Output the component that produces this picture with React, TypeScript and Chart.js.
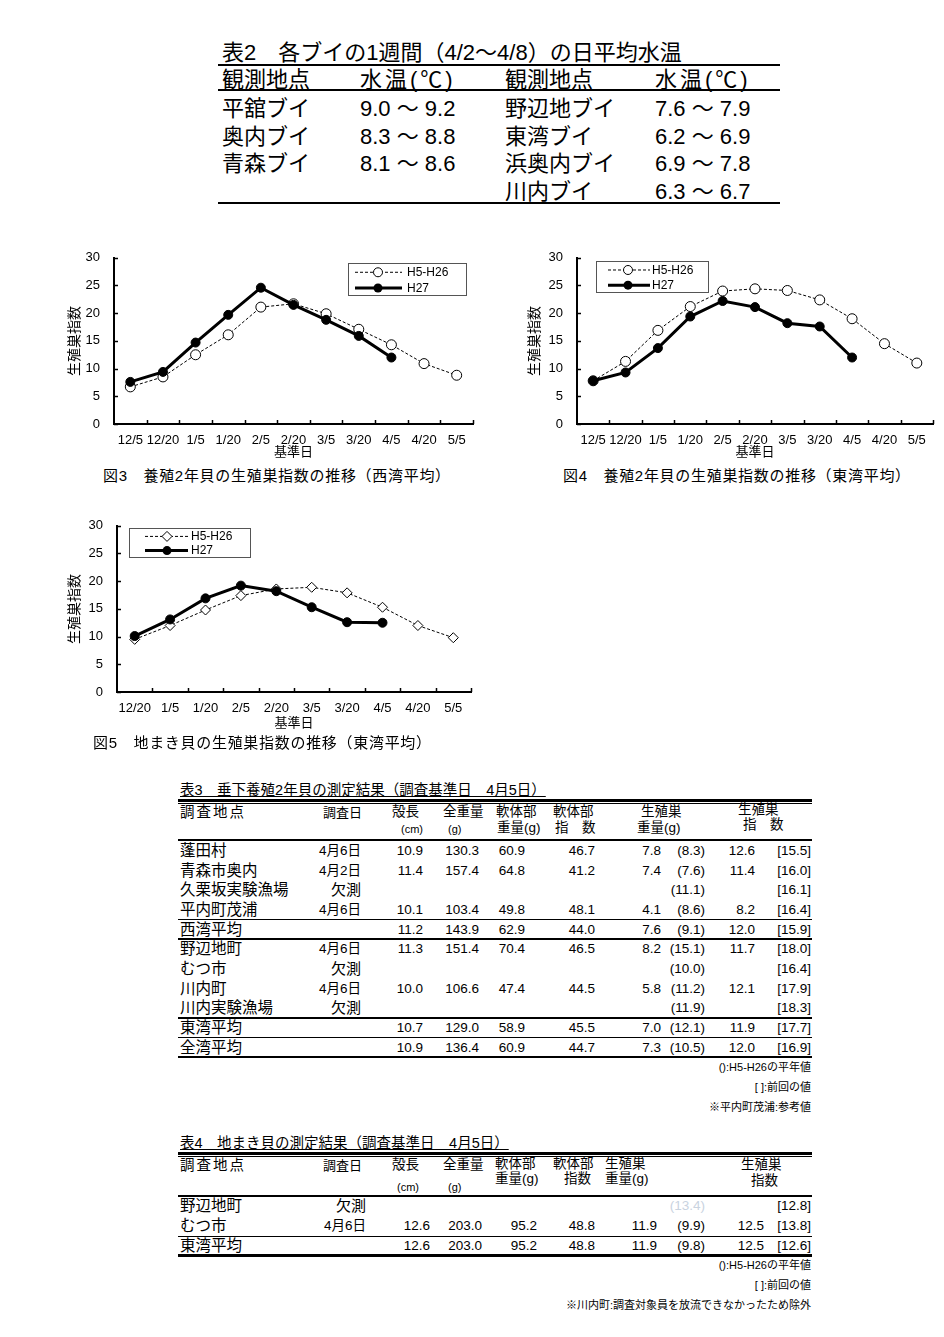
import React, { useEffect, useRef } from 'react';
import { Chart, registerables } from 'chart.js';
Chart.register(...registerables);

// ---------- data ----------
const seriesNames = ['H5-H26', 'H27'];
const fig3Labels = ['12/5', '12/20', '1/5', '1/20', '2/5', '2/20', '3/5', '3/20', '4/5', '4/20', '5/5'];
const fig3Avg = [6.7, 8.5, 12.5, 16.1, 21.1, 21.7, 19.9, 17.1, 14.3, 10.9, 8.8];
const fig3H27 = [7.6, 9.4, 14.7, 19.7, 24.6, 21.5, 18.8, 15.9, 12.0, null, null];
const fig4Labels = ['12/5', '12/20', '1/5', '1/20', '2/5', '2/20', '3/5', '3/20', '4/5', '4/20', '5/5'];
const fig4Avg = [7.8, 11.3, 16.9, 21.2, 24.0, 24.4, 24.1, 22.4, 19.0, 14.5, 11.0];
const fig4H27 = [7.8, 9.3, 13.7, 19.4, 22.2, 21.1, 18.2, 17.6, 12.0, null, null];
const fig5Labels = ['12/20', '1/5', '1/20', '2/5', '2/20', '3/5', '3/20', '4/5', '4/20', '5/5'];
const fig5Avg = [9.5, 12.0, 14.8, 17.4, 18.6, 18.9, 17.9, 15.3, 12.0, 9.8];
const fig5H27 = [10.1, 13.1, 16.9, 19.2, 18.2, 15.3, 12.6, 12.5, null, null];
const yMin = 0;
const yMax = 30;
const yStep = 5;

const t2Title = '表2　各ブイの1週間（4/2～4/8）の日平均水温';
const t2Sites1 = ['平舘ブイ', '奥内ブイ', '青森ブイ'];
const t2Temps1 = ['9.0 ～ 9.2', '8.3 ～ 8.8', '8.1 ～ 8.6'];
const t2Sites2 = ['野辺地ブイ', '東湾ブイ', '浜奥内ブイ', '川内ブイ'];
const t2Temps2 = ['7.6 ～ 7.9', '6.2 ～ 6.9', '6.9 ～ 7.8', '6.3 ～ 6.7'];

const t3Title = '表3　垂下養殖2年貝の測定結果（調査基準日　4月5日）';
const t3Sites = ['蓬田村', '青森市奥内', '久栗坂実験漁場', '平内町茂浦', '西湾平均', '野辺地町', 'むつ市', '川内町', '川内実験漁場', '東湾平均', '全湾平均'];
const t3Dates = ['4月6日', '4月2日', '欠測', '4月6日', '', '4月6日', '欠測', '4月6日', '欠測', '', ''];
const t3Shell = [10.9, 11.4, null, 10.1, 11.2, 11.3, null, 10.0, null, 10.7, 10.9];
const t3Total = [130.3, 157.4, null, 103.4, 143.9, 151.4, null, 106.6, null, 129.0, 136.4];
const t3Soft = [60.9, 64.8, null, 49.8, 62.9, 70.4, null, 47.4, null, 58.9, 60.9];
const t3SoftIdx = [46.7, 41.2, null, 48.1, 44.0, 46.5, null, 44.5, null, 45.5, 44.7];
const t3Gonad = [7.8, 7.4, null, 4.1, 7.6, 8.2, null, 5.8, null, 7.0, 7.3];
const t3GonadAvg = [8.3, 7.6, 11.1, 8.6, 9.1, 15.1, 10.0, 11.2, 11.9, 12.1, 10.5];
const t3Gsi = [12.6, 11.4, null, 8.2, 12.0, 11.7, null, 12.1, null, 11.9, 12.0];
const t3GsiPrev = [15.5, 16.0, 16.1, 16.4, 15.9, 18.0, 16.4, 17.9, 18.3, 17.7, 16.9];
const t3Notes = ['():H5-H26の平年値', '[ ]:前回の値', '※平内町茂浦:参考値'];

const t4Title = '表4　地まき貝の測定結果（調査基準日　4月5日）';
const t4Sites = ['野辺地町', 'むつ市', '東湾平均'];
const t4Dates = ['欠測', '4月6日', ''];
const t4Shell = [null, 12.6, 12.6];
const t4Total = [null, 203.0, 203.0];
const t4Soft = [null, 95.2, 95.2];
const t4SoftIdx = [null, 48.8, 48.8];
const t4Gonad = [null, 11.9, 11.9];
const t4GonadAvg = [13.4, 9.9, 9.8];
const t4Gsi = [null, 12.5, 12.5];
const t4GsiPrev = [12.8, 13.8, 12.6];
const t4Notes = ['():H5-H26の平年値', '[ ]:前回の値', '※川内町:調査対象員を放流できなかったため除外'];

// ---------- helpers ----------
const FONT = "'Liberation Sans', 'Noto Sans CJK JP', sans-serif";
const NUM = 13.5;
const f1 = (v: number | null) => (v == null ? '' : v.toFixed(1));
const par = (v: number | null) => (v == null ? '' : '(' + v.toFixed(1) + ')');
const brk = (v: number | null) => (v == null ? '' : '[' + v.toFixed(1) + ']');

type TP = { x: number; y: number; t: string; s?: number; a?: 'l' | 'r' | 'c'; c?: string; ls?: number; u?: boolean };
function T({ x, y, t, s = NUM, a = 'l', c = '#000', ls = 0, u = false }: TP) {
  const lh = Math.round(s * 1.3);
  const st: any = {
    position: 'absolute', top: y - lh / 2, height: lh, lineHeight: lh + 'px', fontSize: s,
    color: c, whiteSpace: 'nowrap', fontFamily: FONT, letterSpacing: ls ? ls + 'px' : undefined,
    textDecoration: u ? 'underline' : undefined,
  };
  if (a === 'l') st.left = x;
  else if (a === 'r') st.right = 944 - x;
  else { st.left = x - 300; st.width = 600; st.textAlign = 'center'; }
  return <div style={st}>{t}</div>;
}
function L({ x1, x2, y, h = 1 }: { x1: number; x2: number; y: number; h?: number }) {
  return <div style={{ position: 'absolute', left: x1, width: x2 - x1, top: y, height: h, background: '#000' }} />;
}

// ---------- chart ----------
type Geo = {
  left: number; top: number; w: number; h: number;
  plotL: number; plotT: number; plotR: number; plotB: number; yTitleX: number;
  lg: { x: number; y: number; w: number; h: number; l1: number; l2: number; m: number; tx: number };
};

function LineChart({ labels, avg, h27, avgPoint, g }: { labels: string[]; avg: (number | null)[]; h27: (number | null)[]; avgPoint: string; g: Geo }) {
  const ref = useRef<HTMLCanvasElement>(null);
  useEffect(() => {
    const tickFont = { family: FONT, size: 13 };
    const insideTicks = {
      id: 'insideTicks',
      afterDraw(chart: any) {
        const { ctx, chartArea: a, scales } = chart;
        const xs = scales.x, ys = scales.y;
        ctx.save();
        ctx.strokeStyle = '#000';
        ctx.lineWidth = 1.5;
        ys.ticks.forEach((_: any, i: number) => {
          const py = Math.round(ys.getPixelForTick(i)) + 0.5;
          ctx.beginPath(); ctx.moveTo(a.left, py); ctx.lineTo(a.left + 4, py); ctx.stroke();
        });
        const n = xs.ticks.length;
        const half = (xs.getPixelForTick(1) - xs.getPixelForTick(0)) / 2;
        for (let i = 0; i < n; i++) {
          const px = Math.round(xs.getPixelForTick(i) + half) + 0.5;
          ctx.beginPath(); ctx.moveTo(px, a.bottom); ctx.lineTo(px, a.bottom - 4); ctx.stroke();
        }
        ctx.restore();
      },
    };
    const lg = g.lg;
    const boxLegend = {
      id: 'boxLegend',
      afterDraw(chart: any) {
        const ctx = chart.ctx;
        const bx = lg.x - g.left, by = lg.y - g.top;
        ctx.save();
        ctx.fillStyle = '#fff';
        ctx.fillRect(bx, by, lg.w, lg.h);
        ctx.strokeStyle = '#555';
        ctx.lineWidth = 1;
        ctx.strokeRect(bx + 0.5, by + 0.5, lg.w, lg.h);
        const rows = [by + lg.h * 0.29, by + lg.h * 0.78];
        const l1 = bx + lg.l1, l2 = bx + lg.l2, m = bx + lg.m;
        ctx.strokeStyle = '#000';
        ctx.setLineDash([3, 2]);
        ctx.lineWidth = 1;
        ctx.beginPath(); ctx.moveTo(l1, rows[0]); ctx.lineTo(l2, rows[0]); ctx.stroke();
        ctx.setLineDash([]);
        ctx.fillStyle = '#fff';
        ctx.beginPath();
        if (avgPoint === 'rectRot') {
          ctx.moveTo(m, rows[0] - 5); ctx.lineTo(m + 5, rows[0]); ctx.lineTo(m, rows[0] + 5); ctx.lineTo(m - 5, rows[0]); ctx.closePath();
        } else {
          ctx.arc(m, rows[0], 4.5, 0, Math.PI * 2);
        }
        ctx.fill(); ctx.stroke();
        ctx.lineWidth = 3;
        ctx.beginPath(); ctx.moveTo(l1, rows[1]); ctx.lineTo(l2, rows[1]); ctx.stroke();
        ctx.fillStyle = '#000';
        ctx.beginPath(); ctx.arc(m, rows[1], 4.5, 0, Math.PI * 2); ctx.fill();
        ctx.font = '12px ' + FONT;
        ctx.textBaseline = 'middle';
        ctx.textAlign = 'left';
        ctx.fillText(seriesNames[0], bx + lg.tx, rows[0] + 0.5);
        ctx.fillText(seriesNames[1], bx + lg.tx, rows[1] + 0.5);
        ctx.restore();
      },
    };
    const chart = new Chart(ref.current as HTMLCanvasElement, {
      type: 'line',
      data: {
        labels,
        datasets: [
          {
            label: seriesNames[1], data: h27 as any, borderColor: '#000', borderWidth: 3,
            pointRadius: 4.5, pointStyle: 'circle', pointBackgroundColor: '#000', pointBorderColor: '#000',
            pointBorderWidth: 1, order: 0, tension: 0,
          },
          {
            label: seriesNames[0], data: avg as any, borderColor: '#000', borderWidth: 1, borderDash: [3, 2],
            pointRadius: 5, pointStyle: avgPoint as any, pointBackgroundColor: '#fff', pointBorderColor: '#000',
            pointBorderWidth: 1, order: 1, tension: 0,
          },
        ],
      },
      options: {
        responsive: false,
        animation: false,
        devicePixelRatio: 1,
        layout: { padding: { top: g.plotT - g.top, right: g.left + g.w - g.plotR, left: 0, bottom: 0 } },
        plugins: { legend: { display: false }, tooltip: { enabled: false } },
        scales: {
          x: {
            type: 'category',
            offset: true,
            grid: { display: false },
            border: { display: true, color: '#000', width: 2 },
            ticks: { color: '#000', font: tickFont, maxRotation: 0, minRotation: 0, autoSkip: false, padding: 1 },
            title: { display: true, text: '基準日', color: '#000', font: { family: FONT, size: 13 }, padding: { top: 0, bottom: 4 } },
            afterFit: (s: any) => { s.height = g.top + g.h - g.plotB; },
          },
          y: {
            min: yMin, max: yMax,
            grid: { display: false },
            border: { display: true, color: '#000', width: 2 },
            ticks: { stepSize: yStep, color: '#000', font: tickFont, padding: 6 },
            title: { display: true, text: '生殖巣指数', color: '#000', font: { family: FONT, size: 14 }, padding: { top: g.yTitleX - g.left - 8.4, bottom: 0 } },
            afterFit: (s: any) => { s.width = g.plotL - g.left; },
          },
        },
      } as any,
      plugins: [insideTicks, boxLegend],
    });
    return () => chart.destroy();
  }, []);
  return (
    <canvas ref={ref} width={g.w} height={g.h}
      style={{ position: 'absolute', left: g.left, top: g.top, width: g.w, height: g.h }} />
  );
}

const geo3: Geo = { left: 60, top: 244, w: 422, h: 220, plotL: 114, plotT: 254, plotR: 473, plotB: 424, yTitleX: 75,
  lg: { x: 348, y: 263, w: 118, h: 32, l1: 7, l2: 54, m: 30, tx: 59 } };
const geo4: Geo = { left: 522, top: 244, w: 420, h: 220, plotL: 577, plotT: 255, plotR: 933, plotB: 424, yTitleX: 535,
  lg: { x: 596, y: 261, w: 112, h: 31, l1: 12, l2: 54, m: 32, tx: 56 } };
const geo5: Geo = { left: 60, top: 512, w: 422, h: 223, plotL: 117, plotT: 522, plotR: 471, plotB: 692, yTitleX: 75,
  lg: { x: 129, y: 528, w: 121, h: 29, l1: 16, l2: 59, m: 38, tx: 62 } };

// ---------- tables ----------
function Table2() {
  const rowY = [108, 136, 163, 191];
  return (
    <>
      <T x={222} y={52} t={t2Title} s={22} />
      <L x1={218} x2={780} y={64} h={2} />
      <T x={222} y={79} t="観測地点" s={22} />
      <T x={360} y={79} t="水温(℃)" s={22} ls={3} />
      <T x={505} y={79} t="観測地点" s={22} />
      <T x={655} y={79} t="水温(℃)" s={22} ls={3} />
      <L x1={218} x2={780} y={89} h={2} />
      {t2Sites1.map((s, i) => <T key={'a' + i} x={222} y={rowY[i]} t={s} s={22} />)}
      {t2Temps1.map((s, i) => <T key={'b' + i} x={360} y={rowY[i]} t={s} s={22} />)}
      {t2Sites2.map((s, i) => <T key={'c' + i} x={505} y={rowY[i]} t={s} s={22} />)}
      {t2Temps2.map((s, i) => <T key={'d' + i} x={655} y={rowY[i]} t={s} s={22} />)}
      <L x1={218} x2={780} y={202} h={2} />
    </>
  );
}

function Table3() {
  const rowY = [851, 871, 890, 910, 930, 949, 969, 989, 1008, 1028, 1048];
  const X1 = 178, X2 = 812;
  return (
    <>
      <T x={180} y={790} t={t3Title} s={14.5} u />
      <L x1={X1} x2={X2} y={799} h={3} />
      <L x1={X1} x2={X2} y={803} h={1} />
      <T x={180} y={812} t="調査地点" s={14.5} ls={2} />
      <T x={323} y={812} t="調査日" s={13} />
      <T x={392} y={812} t="殻長" s={13.5} />
      <T x={401} y={829} t="(cm)" s={11} />
      <T x={443} y={812} t="全重量" s={13.5} />
      <T x={448} y={829} t="(g)" s={11} />
      <T x={496} y={812} t="軟体部" s={13.5} />
      <T x={497} y={828} t="重量(g)" s={13.5} />
      <T x={553} y={812} t="軟体部" s={13.5} />
      <T x={555} y={828} t="指　数" s={13.5} />
      <T x={641} y={812} t="生殖巣" s={13.5} />
      <T x={637} y={828} t="重量(g)" s={13.5} />
      <T x={738} y={810} t="生殖巣" s={13.5} />
      <T x={743} y={825} t="指　数" s={13.5} />
      <L x1={X1} x2={X2} y={839} h={2} />
      {t3Sites.map((s, i) => <T key={'s' + i} x={180} y={rowY[i]} t={s} s={15.5} />)}
      {t3Dates.map((s, i) => <T key={'d' + i} x={361} y={rowY[i]} t={s} s={s === '欠測' ? 15 : 13.5} a="r" />)}
      {t3Shell.map((v, i) => <T key={'a' + i} x={423} y={rowY[i]} t={f1(v)} a="r" />)}
      {t3Total.map((v, i) => <T key={'b' + i} x={479} y={rowY[i]} t={f1(v)} a="r" />)}
      {t3Soft.map((v, i) => <T key={'c' + i} x={525} y={rowY[i]} t={f1(v)} a="r" />)}
      {t3SoftIdx.map((v, i) => <T key={'e' + i} x={595} y={rowY[i]} t={f1(v)} a="r" />)}
      {t3Gonad.map((v, i) => <T key={'f' + i} x={661} y={rowY[i]} t={f1(v)} a="r" />)}
      {t3GonadAvg.map((v, i) => <T key={'g' + i} x={705} y={rowY[i]} t={par(v)} a="r" />)}
      {t3Gsi.map((v, i) => <T key={'h' + i} x={755} y={rowY[i]} t={f1(v)} a="r" />)}
      {t3GsiPrev.map((v, i) => <T key={'k' + i} x={811} y={rowY[i]} t={brk(v)} a="r" />)}
      <L x1={X1} x2={X2} y={919} h={1} />
      <L x1={X1} x2={X2} y={938} h={2} />
      <L x1={X1} x2={X2} y={1017} h={2} />
      <L x1={X1} x2={X2} y={1037} h={1} />
      <L x1={X1} x2={X2} y={1056} h={2} />
      {t3Notes.map((s, i) => <T key={'n' + i} x={811} y={1067 + i * 20} t={s} s={11} a="r" />)}
    </>
  );
}

function Table4() {
  const rowY = [1206, 1226, 1246];
  const X1 = 178, X2 = 812;
  return (
    <>
      <T x={180} y={1143} t={t4Title} s={14.5} u />
      <L x1={X1} x2={X2} y={1152} h={3} />
      <L x1={X1} x2={X2} y={1156} h={1} />
      <T x={180} y={1165} t="調査地点" s={14.5} ls={2} />
      <T x={323} y={1165} t="調査日" s={13} />
      <T x={392} y={1165} t="殻長" s={13.5} />
      <T x={397} y={1187} t="(cm)" s={11} />
      <T x={443} y={1165} t="全重量" s={13.5} />
      <T x={448} y={1187} t="(g)" s={11} />
      <T x={495} y={1164} t="軟体部" s={13.5} />
      <T x={495} y={1179} t="重量(g)" s={13.5} />
      <T x={553} y={1164} t="軟体部" s={13.5} />
      <T x={564} y={1179} t="指数" s={13.5} />
      <T x={605} y={1164} t="生殖巣" s={13.5} />
      <T x={605} y={1179} t="重量(g)" s={13.5} />
      <T x={741} y={1165} t="生殖巣" s={13.5} />
      <T x={751} y={1181} t="指数" s={13.5} />
      <L x1={X1} x2={X2} y={1195} h={2} />
      {t4Sites.map((s, i) => <T key={'s' + i} x={180} y={rowY[i]} t={s} s={15.5} />)}
      {t4Dates.map((s, i) => <T key={'d' + i} x={366} y={rowY[i]} t={s} s={s === '欠測' ? 15 : 13.5} a="r" />)}
      {t4Shell.map((v, i) => <T key={'a' + i} x={430} y={rowY[i]} t={f1(v)} a="r" />)}
      {t4Total.map((v, i) => <T key={'b' + i} x={482} y={rowY[i]} t={f1(v)} a="r" />)}
      {t4Soft.map((v, i) => <T key={'c' + i} x={537} y={rowY[i]} t={f1(v)} a="r" />)}
      {t4SoftIdx.map((v, i) => <T key={'e' + i} x={595} y={rowY[i]} t={f1(v)} a="r" />)}
      {t4Gonad.map((v, i) => <T key={'f' + i} x={657} y={rowY[i]} t={f1(v)} a="r" />)}
      {t4GonadAvg.map((v, i) => <T key={'g' + i} x={705} y={rowY[i]} t={par(v)} a="r" c={i === 0 ? '#c9d3df' : '#000'} />)}
      {t4Gsi.map((v, i) => <T key={'h' + i} x={764} y={rowY[i]} t={f1(v)} a="r" />)}
      {t4GsiPrev.map((v, i) => <T key={'k' + i} x={811} y={rowY[i]} t={brk(v)} a="r" />)}
      <L x1={X1} x2={X2} y={1236} h={1} />
      <L x1={X1} x2={X2} y={1254} h={2.5} />
      {t4Notes.map((s, i) => <T key={'n' + i} x={811} y={1265 + i * 20} t={s} s={11} a="r" />)}
    </>
  );
}

export default function App() {
  return (
    <div style={{ position: 'absolute', left: 0, top: 0, width: 944, height: 1337, background: '#fff', overflow: 'hidden', fontFamily: FONT }}>
      <Table2 />
      <LineChart labels={fig3Labels} avg={fig3Avg} h27={fig3H27} avgPoint="circle" g={geo3} />
      <LineChart labels={fig4Labels} avg={fig4Avg} h27={fig4H27} avgPoint="circle" g={geo4} />
      <LineChart labels={fig5Labels} avg={fig5Avg} h27={fig5H27} avgPoint="rectRot" g={geo5} />
      <T x={103} y={476} t="図3　養殖2年貝の生殖巣指数の推移（西湾平均）" s={15} ls={0.7} />
      <T x={563} y={476} t="図4　養殖2年貝の生殖巣指数の推移（東湾平均）" s={15} ls={0.7} />
      <T x={93} y={743} t="図5　地まき貝の生殖巣指数の推移（東湾平均）" s={15} ls={0.7} />
      <Table3 />
      <Table4 />
    </div>
  );
}
